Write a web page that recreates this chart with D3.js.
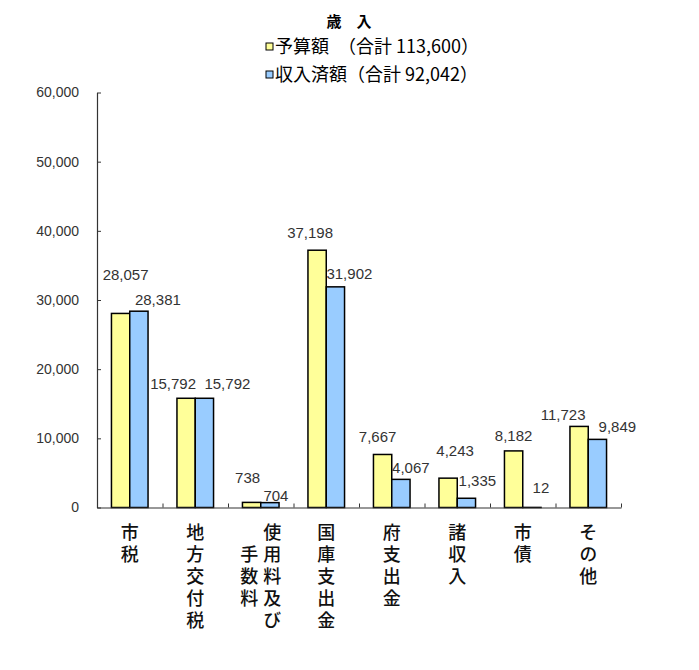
<!DOCTYPE html>
<html>
<head>
<meta charset="utf-8">
<script src="https://cdn.jsdelivr.net/npm/d3@7"></script>
<style>
  body { margin: 0; background: #fff; }
  svg { display: block; }
</style>
</head>
<body>
<div id="canvas"></div>
<script>
//categories and values (千円)
var categories = ['市税', '地方交付税', '使用料及び手数料', '国庫支出金', '府支出金', '諸収入', '市債', 'その他'];
var budget = [28057, 15792, 738, 37198, 7667, 4243, 8182, 11723];
var actual = [28381, 15792, 704, 31902, 4067, 1335, 12, 9849];
var seriesNames = ['予算額　（合計 113,600）', '収入済額（合計 92,042）'];
var yTicks = [0, 10000, 20000, 30000, 40000, 50000, 60000];

//vertical label columns (right column first)
var catColumns = [['市税'], ['地方交付税'], ['使用料及び', '手数料'], ['国庫支出金'], ['府支出金'], ['諸収入'], ['市債'], ['その他']];

//label nudges, relative to bar centre / bar top
var budgetNudge = [[5, -39], [-13, -15], [-4, -25], [-7, -17], [-5, -18], [7, -27], [0, -15], [-16, -12]];
var actualNudge = [[19, -11], [23, -15], [6, -7], [14, -13], [10, -12], [11, -18], [9, -20], [20, -13]];

var cv = { width: 699, height: 670, left: 97, right: 621, top: 92.5, bottom: 507.5 };
var colors = ['#FFFF99', '#99CCFF'];
var numFont = '"Liberation Sans", Arial, sans-serif';
var jpFont = '"Noto Sans CJK JP", sans-serif';

var svg = d3.select('#canvas').append('svg')
  .attr('width', cv.width)
  .attr('height', cv.height);

svg.append('rect')
  .attr('width', cv.width)
  .attr('height', cv.height)
  .attr('fill', '#ffffff');

//scales
var x0 = d3.scaleBand()
  .domain(categories)
  .range([cv.left, cv.right])
  .padding(0);

var x1 = d3.scaleBand()
  .domain([0, 1])
  .range([0, x0.bandwidth()])
  .paddingInner(0)
  .paddingOuter(0.79);

var y = d3.scaleLinear()
  .domain([0, 60000])
  .range([cv.bottom, cv.top]);

var xEdge = d3.scaleLinear()
  .domain([0, categories.length])
  .range([cv.left, cv.right]);

//y axis, ticks pointing inward
var yAxis = svg.append('g')
  .attr('transform', 'translate(' + cv.left + ',0)')
  .call(d3.axisLeft(y).tickValues(yTicks).tickFormat(d3.format(','))
    .tickSizeInner(-4).tickSizeOuter(0).tickPadding(18));
yAxis.select('.domain').attr('stroke', '#333').attr('stroke-width', 1.2);
yAxis.selectAll('.tick line').attr('stroke', '#333');
yAxis.selectAll('.tick text')
  .attr('font-family', numFont)
  .attr('font-size', 14)
  .attr('fill', '#333');

//bars
var groups = svg.selectAll('.cat')
  .data(categories)
  .enter().append('g')
  .attr('class', 'cat')
  .attr('transform', d => 'translate(' + x0(d) + ',0)');

groups.selectAll('rect')
  .data((d, i) => [budget[i], actual[i]])
  .enter().append('rect')
  .attr('x', (d, j) => x1(j))
  .attr('y', d => y(d))
  .attr('width', x1.bandwidth())
  .attr('height', d => y(0) - y(d))
  .attr('fill', (d, j) => colors[j])
  .attr('stroke', '#000')
  .attr('stroke-width', 1.5);

//value labels
groups.selectAll('.val')
  .data((d, i) => [
    { v: budget[i], s: 0, n: budgetNudge[i] },
    { v: actual[i], s: 1, n: actualNudge[i] }
  ])
  .enter().append('text')
  .attr('class', 'val')
  .attr('x', d => x1(d.s) + x1.bandwidth() / 2 + d.n[0])
  .attr('y', d => y(d.v) + d.n[1])
  .attr('dy', '0.35em')
  .attr('text-anchor', 'middle')
  .attr('font-family', numFont)
  .attr('font-size', 15)
  .attr('fill', '#333')
  .text(d => d3.format(',')(d.v));

//x axis with inward ticks at category edges
var xAxis = svg.append('g')
  .attr('transform', 'translate(0,' + cv.bottom + ')')
  .call(d3.axisBottom(xEdge).tickValues(d3.range(categories.length + 1))
    .tickFormat('').tickSizeInner(-4).tickSizeOuter(0));
xAxis.select('.domain').attr('stroke', '#333').attr('stroke-width', 1.2);
xAxis.selectAll('.tick line').attr('stroke', '#333');

//vertical category labels, one text per column
var rowStep = 22, colStep = 23, firstTop = 523;
var fs = 18;
categories.forEach(function(c, i) {
  var cols = catColumns[i];
  var maxLen = d3.max(cols, s => s.length);
  var cx = x0(c) + x0.bandwidth() / 2;
  cols.forEach(function(col, j) {
    var colX = cx + (cols.length - 1) / 2 * colStep - j * colStep;
    var off = (maxLen - col.length) / 2;
    svg.append('text')
      .attr('x', colX)
      .attr('y', firstTop + off * rowStep)
      .style('writing-mode', 'vertical-rl')
      .style('letter-spacing', (rowStep - fs) + 'px')
      .attr('font-family', jpFont)
      .attr('font-size', fs)
      .attr('font-weight', 500)
      .attr('fill', '#111')
      .text(col);
  });
});

//title
svg.append('text')
  .attr('x', 349)
  .attr('y', 22)
  .attr('dy', '0.35em')
  .attr('text-anchor', 'middle')
  .attr('font-family', jpFont)
  .attr('font-size', 15)
  .attr('font-weight', 700)
  .attr('fill', '#000')
  .text('歳　入');

//legend
var legend = svg.selectAll('.legend')
  .data(seriesNames)
  .enter().append('g')
  .attr('class', 'legend')
  .attr('transform', (d, i) => 'translate(266,' + (46.5 + i * 28) + ')');

legend.append('rect')
  .attr('x', 0)
  .attr('y', -3.5)
  .attr('width', 7)
  .attr('height', 7)
  .attr('fill', (d, i) => colors[i])
  .attr('stroke', '#000')
  .attr('stroke-width', 1);

legend.append('text')
  .attr('x', 9)
  .attr('y', 0)
  .attr('dy', '0.35em')
  .attr('font-family', jpFont)
  .attr('font-size', 18)
  .attr('fill', '#000')
  .text(d => d);
</script>
</body>
</html>
